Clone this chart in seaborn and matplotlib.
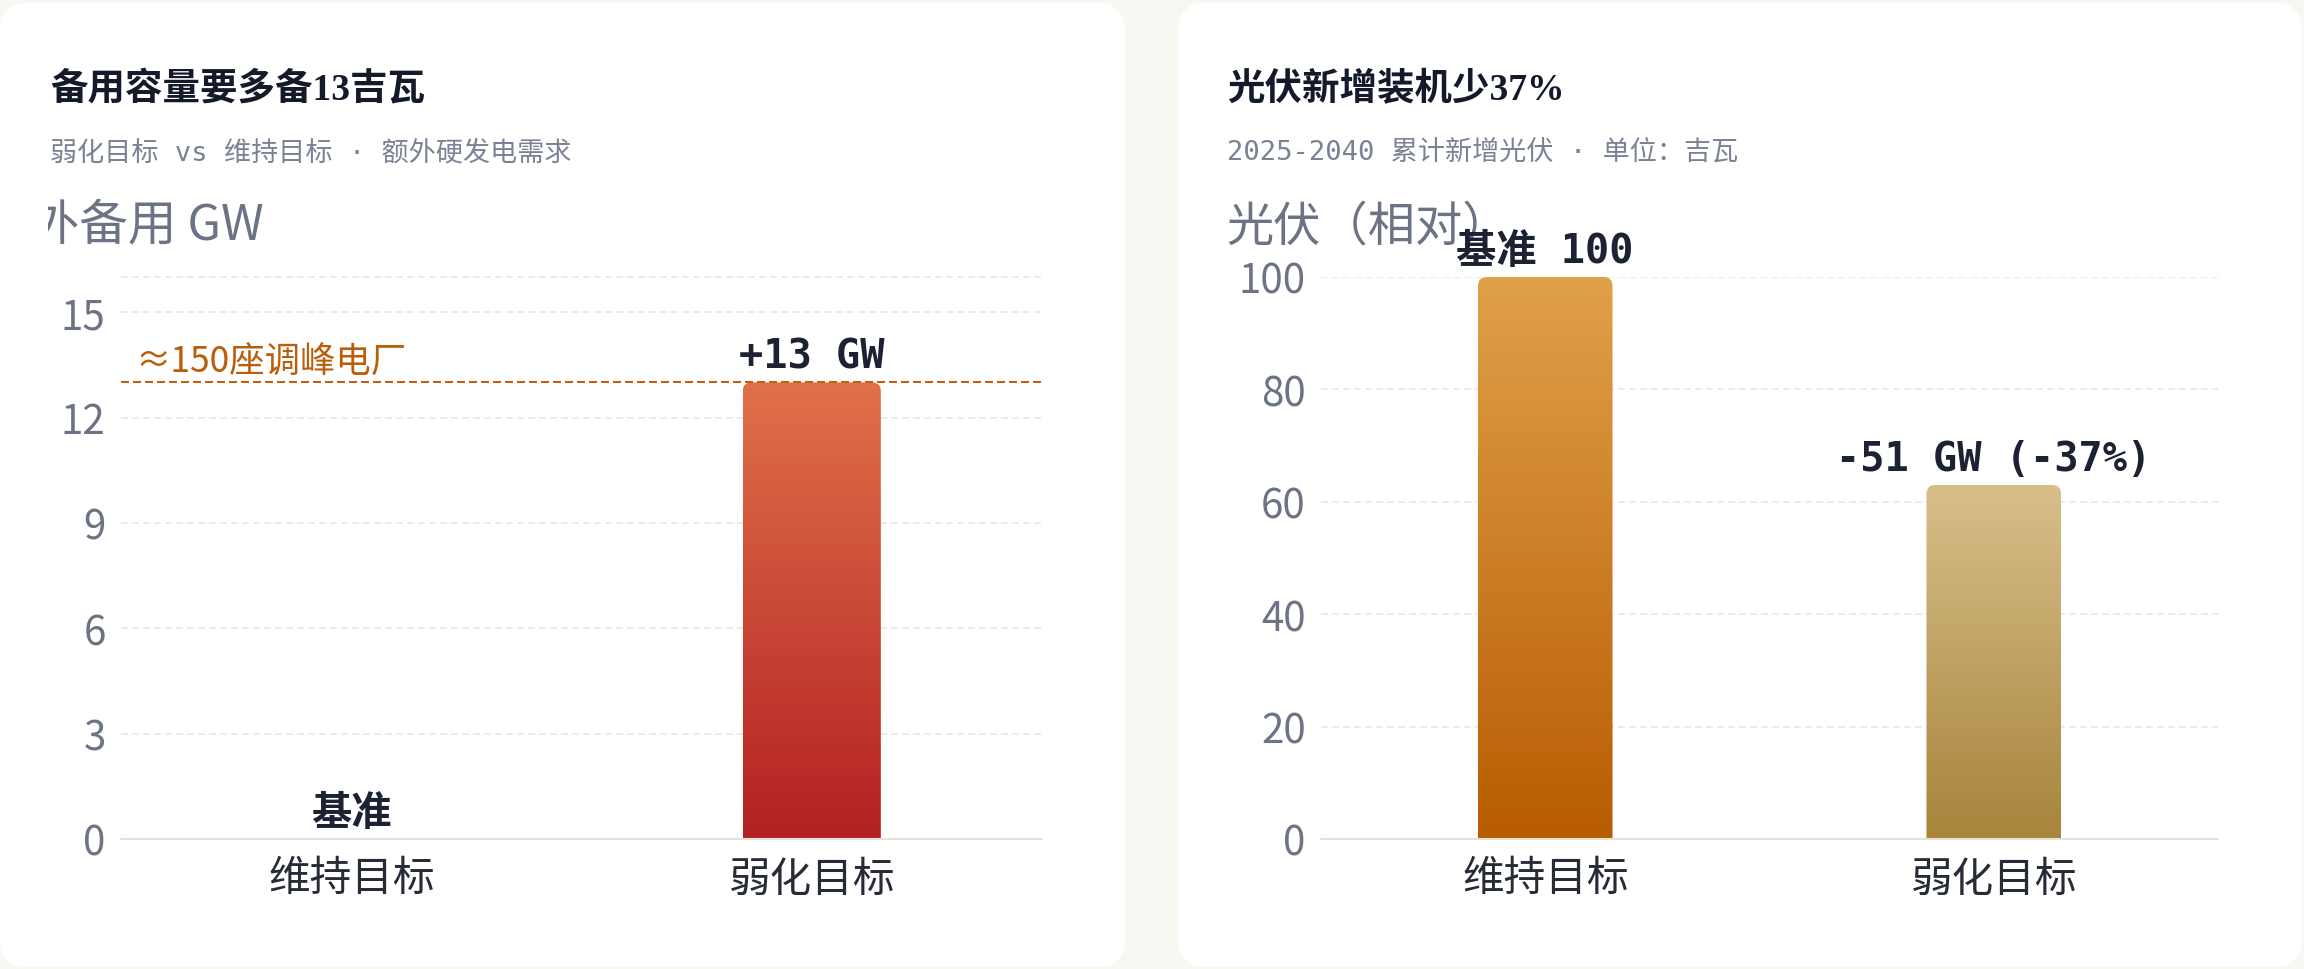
import numpy as np
import seaborn as sns
import matplotlib.pyplot as plt
from matplotlib.patches import FancyBboxPatch, PathPatch
from matplotlib.path import Path
from matplotlib.colors import LinearSegmentedColormap
from matplotlib.transforms import IdentityTransform, Bbox

# --- data ---
cats = ['维持目标', '弱化目标']

reserve_gw = [0, 13]
reserve_labels = ['基准', '+13 GW']
reserve_ticks = [0, 3, 6, 9, 12, 15]
peaker_gw = 13
peaker_text = '≈150座调峰电厂'

pv_rel = [100, 63]
pv_labels = ['基准 100', '-51 GW (-37%)']
pv_ticks = [0, 20, 40, 60, 80, 100]

W, H = 2304, 970
sns.set_style('white')
plt.rcParams['font.family'] = ['Noto Sans CJK SC', 'DejaVu Sans']

fig = plt.figure(figsize=(W / 100, H / 100), dpi=100)
fig.patch.set_facecolor('#f8f7f2')

# white cards behind the two charts
for x0, x1 in [(0, 1125), (1178, 2302)]:
    card = FancyBboxPatch((x0, 2), x1 - x0, 964, boxstyle='round,pad=0,rounding_size=28',
                          facecolor='white', edgecolor='none', transform=IdentityTransform(), zorder=-1)
    fig.add_artist(card)

MONO = ['DejaVu Sans Mono', 'Noto Sans CJK SC']
TITLE = ['Liberation Serif', 'Noto Sans CJK SC']
GREY = '#6b7385'
DARK = '#1c2233'


def fy(y):
    return 1 - y / H


def draw_panel(ax, vals, labels, ymax, ticks, grads):
    sns.barplot(x=cats, y=vals, ax=ax, width=0.3, color='#cccccc')
    ax.set_facecolor('none')
    sns.despine(ax=ax, left=True, bottom=True)

    pos = ax.get_position()
    sx = pos.width * W / 2.0
    sy = pos.height * H / ymax
    r = 9
    for p, (top, bot) in zip(ax.patches, grads):
        x0, w, h = p.get_x(), p.get_width(), p.get_height()
        p.set_visible(False)
        if h <= 0:
            continue
        x1 = x0 + w
        rx, ry = r / sx, r / sy
        verts = [(x0, 0), (x0, h - ry), (x0, h), (x0 + rx, h), (x1 - rx, h),
                 (x1, h), (x1, h - ry), (x1, 0), (x0, 0)]
        codes = [Path.MOVETO, Path.LINETO, Path.CURVE3, Path.CURVE3, Path.LINETO,
                 Path.CURVE3, Path.CURVE3, Path.LINETO, Path.CLOSEPOLY]
        clip = PathPatch(Path(verts, codes), transform=ax.transData, facecolor='none', edgecolor='none')
        ax.add_patch(clip)
        cmap = LinearSegmentedColormap.from_list('g', [bot, top])
        im = ax.imshow(np.linspace(0, 1, 256).reshape(-1, 1), cmap=cmap, origin='lower',
                       extent=[x0, x1, 0, h], aspect='auto', zorder=2)
        im.set_clip_path(clip)

    for i, (v, t) in enumerate(zip(vals, labels)):
        ax.annotate(t, xy=(i, v), xytext=(0, 11), textcoords='offset points', ha='center',
                    va='baseline', fontsize=29, fontweight='bold', color=DARK, family=MONO,
                    annotation_clip=False, zorder=5)

    for t in ticks[1:]:
        ax.axhline(t, color='#ebe5d6', lw=1.1, dashes=(4.6, 2.6), zorder=0)
    if ticks[-1] < ymax:
        ax.axhline(ymax, color='#ebe5d6', lw=1.1, dashes=(4.6, 2.6), zorder=0, clip_on=False)
    ax.axhline(0, color='#e7e2d4', lw=1.5, zorder=3, clip_on=False)

    ax.set_yticks(ticks)
    ax.set_xlim(-0.5, 1.5)
    ax.set_ylim(0, ymax)
    ax.set_xlabel('')
    ax.set_ylabel('')
    ax.tick_params(axis='y', length=0, pad=11, labelsize=29, labelcolor=GREY)
    ax.tick_params(axis='x', length=0, pad=14, labelsize=30, labelcolor='#262b36')


# left panel: extra reserve capacity
axL = fig.add_axes([121 / W, 130 / H, 921 / W, 562 / H])
draw_panel(axL, reserve_gw, reserve_labels, 16, reserve_ticks,
           [('#e0714a', '#b32022'), ('#e0714a', '#b32022')])
axL.axhline(peaker_gw, color='#c0600c', lw=1.44, dashes=(4, 2), zorder=4)
axL.annotate(peaker_text, xy=(0.016, peaker_gw), xycoords=('axes fraction', 'data'),
             xytext=(0, 8), textcoords='offset points', ha='left', va='baseline',
             fontsize=25.5, color='#bb5e0c', family=['Noto Sans CJK SC', 'DejaVu Sans'])

# right panel: new PV relative
axR = fig.add_axes([1321 / W, 130 / H, 897 / W, 562 / H])
draw_panel(axR, pv_rel, pv_labels, 100, pv_ticks,
           [('#e0a14a', '#b85c02'), ('#d8bf8a', '#a8843c')])

# titles
fig.text(50 / W, fy(90), '备用容量要多备13吉瓦', fontsize=27, fontweight='bold', color='#141a2a',
         family=TITLE, va='center', ha='left')
fig.text(1227 / W, fy(90), '光伏新增装机少37%', fontsize=27, fontweight='bold', color='#141a2a',
         family=TITLE, va='center', ha='left')
fig.text(50 / W, fy(153), '弱化目标 vs 维持目标 · 额外硬发电需求', fontsize=19.5, color='#7b8294',
         family=MONO, va='center', ha='left')
fig.text(1227 / W, fy(153), '2025-2040 累计新增光伏 · 单位：吉瓦', fontsize=19.5, color='#7b8294',
         family=MONO, va='center', ha='left')

# axis titles (left one is cut by the card padding)
yl = fig.text(264 / W, fy(227), '额外备用 GW', fontsize=35, color=GREY, va='center', ha='right', zorder=-0.5)
yl.set_clip_box(Bbox.from_extents(48, 0, 1125, H))
yl.set_clip_on(True)
fig.text(1226 / W, fy(227), '光伏（相对）', fontsize=34, color=GREY, va='center', ha='left', zorder=-0.5)

fig.savefig('out.png', dpi=100, facecolor=fig.get_facecolor())
